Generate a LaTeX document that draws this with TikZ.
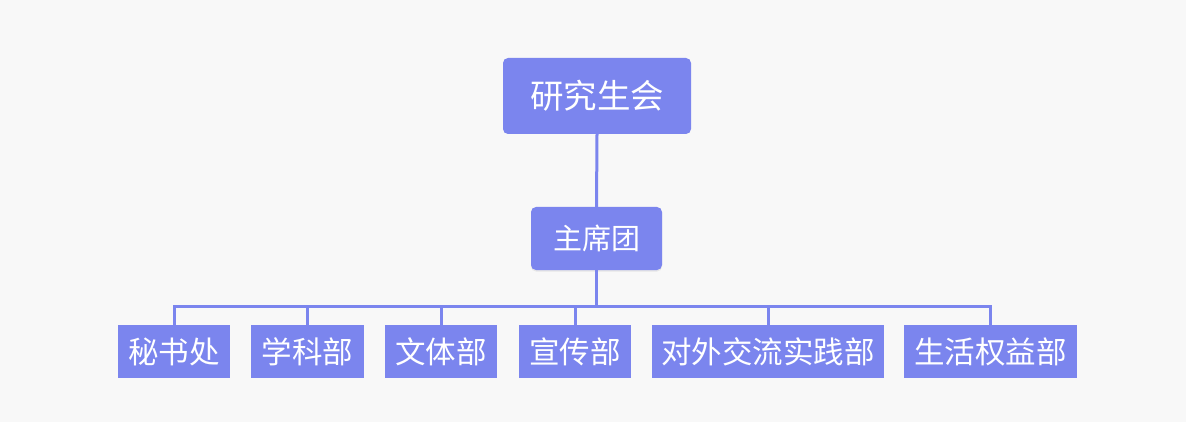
\documentclass[tikz,border=0pt]{standalone}
\usepackage{fontspec}
\newfontfamily\cjk{Noto Sans CJK SC}
\usetikzlibrary{shadows}
\definecolor{boxc}{HTML}{7B85EE}
\definecolor{bgc}{HTML}{F8F8F8}
\tikzset{
  x=1pt, y=-1pt,
  orgbox/.style={fill=boxc, draw=none, text=white, inner sep=0pt, align=center, font=\cjk\fontsize{30.5}{30.5}\selectfont},
  topbox/.style={orgbox, rounded corners=5pt, font=\cjk\fontsize{33.5}{33.5}\selectfont},
  midbox/.style={orgbox, rounded corners=5pt, font=\cjk\fontsize{29}{29}\selectfont, drop shadow={shadow xshift=0pt, shadow yshift=-1.5pt, opacity=0.15}},
  link/.style={draw=boxc, line width=3pt},
}
\begin{document}
\begin{tikzpicture}
\fill[bgc] (0,0) rectangle (1186,422);
\useasboundingbox (0,0) rectangle (1186,422);
\node[topbox, minimum width=188pt, minimum height=76pt] (top) at (597,96) {研究生会};
\node[midbox, minimum width=131pt, minimum height=63pt] (mid) at (596.5,238.5) {主席团};
\node[orgbox, minimum width=112pt, minimum height=53pt] (b1) at (174,351.5) {秘书处};
\node[orgbox, minimum width=113pt, minimum height=53pt] (b2) at (307.5,351.5) {学科部};
\node[orgbox, minimum width=112pt, minimum height=53pt] (b3) at (441,351.5) {文体部};
\node[orgbox, minimum width=112pt, minimum height=53pt] (b4) at (575,351.5) {宣传部};
\node[orgbox, minimum width=232pt, minimum height=53pt] (b5) at (768,351.5) {对外交流实践部};
\node[orgbox, minimum width=173pt, minimum height=53pt] (b6) at (990.5,351.5) {生活权益部};
\coordinate (bus) at (596.5,306);
\draw[link] (top.south) -- (mid.north);
\draw[link] (mid.south) -- (bus);
\draw[link] (b1.north) |- (bus);
\draw[link] (b6.north) |- (bus);
\draw[link] (b2.north) -- (b2.north |- bus);
\draw[link] (b3.north) -- (b3.north |- bus);
\draw[link] (b4.north) -- (b4.north |- bus);
\draw[link] (b5.north) -- (b5.north |- bus);
\end{tikzpicture}
\end{document}
